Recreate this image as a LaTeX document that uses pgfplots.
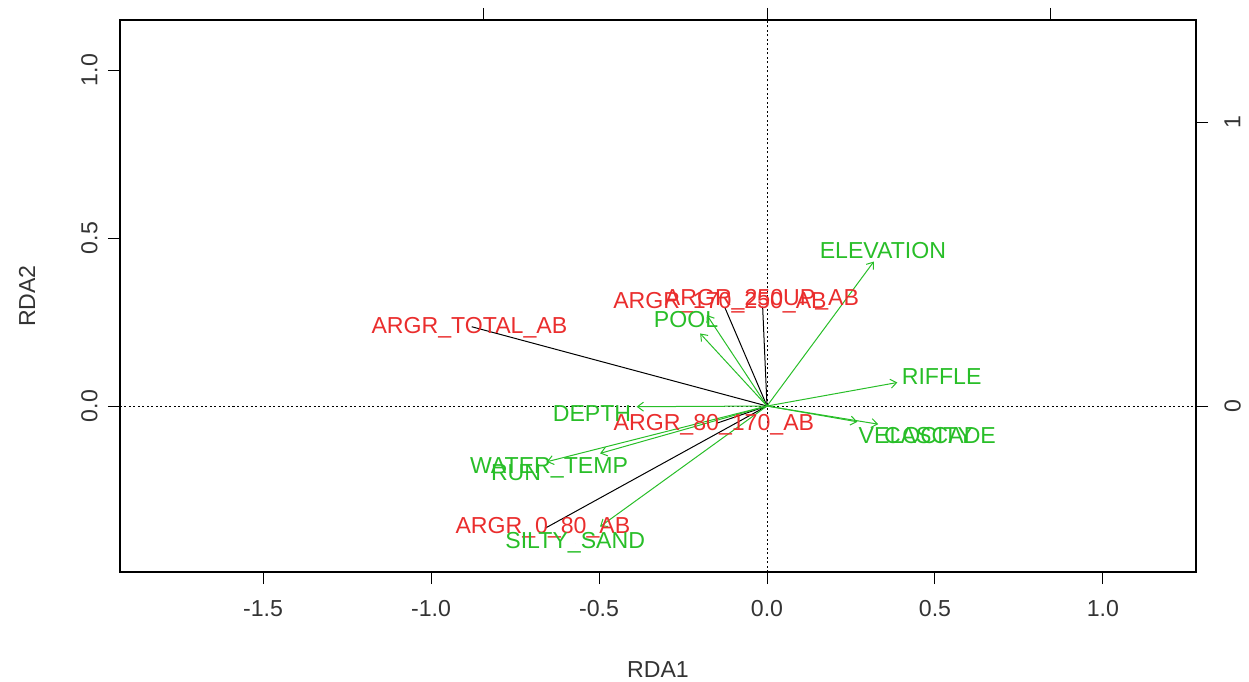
\documentclass[border=0pt]{standalone}
\usepackage{pgfplots}
\pgfplotsset{compat=1.18}
\usepackage{fontspec}
\setmainfont{Liberation Sans}
\usetikzlibrary{arrows.meta}
\definecolor{rgreen}{RGB}{40,190,40}
\definecolor{rred}{RGB}{234,45,45}
\newcommand{\lblfont}{\fontsize{23.2}{28}\selectfont}
\begin{document}
\begin{tikzpicture}
\begin{axis}[
  at={(0bp,0bp)}, anchor=south west,
  scale only axis, width=1076bp, height=552bp,
  xmin=-1.926, xmax=1.277, ymin=-0.494, ymax=1.149,
  xtick={-1.5,-1,-0.5,0,0.5,1}, xticklabels={-1.5,-1.0,-0.5,0.0,0.5,1.0},
  ytick={0,0.5,1}, yticklabels={0.0,0.5,1.0},
  xtick pos=bottom, ytick pos=left,
  tick align=outside, major tick length=12bp,
  tick style={black, line width=1bp},
  axis line style={line width=1.2bp},
  ticklabel style={font=\lblfont, text=black!80},
  xticklabel style={anchor=north}, xticklabel shift=13bp,
  yticklabel style={rotate=90, anchor=south}, yticklabel shift=7bp,
  xlabel={RDA1}, ylabel={RDA2},
  xlabel style={at={([yshift=-98bp]axis description cs:0.5,0)}, anchor=center, font=\lblfont, text=black!80},
  ylabel style={at={([xshift=-93bp]axis description cs:0,0.5)}, anchor=center, font=\lblfont, text=black!80},
]
% reference lines
\addplot[black, line width=1bp, dash pattern=on 2bp off 2.5bp] coordinates {(-1.926,0) (1.277,0)};
\addplot[black, line width=1bp, dash pattern=on 2bp off 2.5bp] coordinates {(0,-0.494) (0,1.149)};
% species (black lines)
\addplot[black, line width=1bp] coordinates {(0,0) (-0.879,0.236)};
\addplot[black, line width=1bp] coordinates {(0,0) (-0.661,-0.364)};
\addplot[black, line width=1bp] coordinates {(0,0) (-0.149,-0.051)};
\addplot[black, line width=1bp] coordinates {(0,0) (-0.125,0.292)};
\addplot[black, line width=1bp] coordinates {(0,0) (-0.013,0.296)};
% environmental arrows (green)
\pgfplotsset{envarrow/.style={rgreen, line width=1bp, -{Straight Barb[length=6bp,width=9bp]}}}
\addplot[envarrow] coordinates {(0,0) (0.318,0.430)};
\addplot[envarrow] coordinates {(0,0) (0.388,0.070)};
\addplot[envarrow] coordinates {(0,0) (0.269,-0.047)};
\addplot[envarrow] coordinates {(0,0) (0.331,-0.054)};
\addplot[envarrow] coordinates {(0,0) (-0.388,-0.002)};
\addplot[envarrow] coordinates {(0,0) (-0.656,-0.166)};
\addplot[envarrow] coordinates {(0,0) (-0.497,-0.141)};
\addplot[envarrow] coordinates {(0,0) (-0.497,-0.359)};
\addplot[envarrow] coordinates {(0,0) (-0.199,0.216)};
\addplot[envarrow] coordinates {(0,0) (-0.179,0.271)};
% labels
\addplot[only marks, mark=*, mark size=0pt, mark options={draw=none, fill=none},
  nodes near coords, point meta=explicit symbolic,
  every node near coord/.append style={anchor=center, text=rred, font=\lblfont, inner sep=0pt, text opacity=1}]
  table[meta=lab, row sep=\\] {
x y lab\\
-0.886 0.234 ARGR\_TOTAL\_AB\\
-0.667 -0.363 ARGR\_0\_80\_AB\\
-0.158 -0.057 ARGR\_80\_170\_AB\\
-0.140 0.307 ARGR\_170\_250\_AB\\
-0.015 0.315 ARGR\_250UP\_AB\\
};
\addplot[only marks, mark=*, mark size=0pt, mark options={draw=none, fill=none},
  nodes near coords, point meta=explicit symbolic,
  every node near coord/.append style={anchor=center, text=rgreen, font=\lblfont, inner sep=0pt, text opacity=1}]
  table[meta=lab, row sep=\\] {
x y lab\\
0.345 0.464 ELEVATION\\
0.520 0.089 RIFFLE\\
0.443 -0.089 VELOCITY\\
0.515 -0.089 CASCADE\\
-0.521 -0.021 DEPTH\\
-0.649 -0.185 WATER\_TEMP\\
-0.747 -0.199 RUN\\
-0.571 -0.408 SILTY\_SAND\\
-0.241 0.256 POOL\\
};
\end{axis}
% secondary (top/right) axes of the biplot arrows
\begin{axis}[
  at={(0bp,0bp)}, anchor=south west,
  scale only axis, width=1076bp, height=552bp,
  xmin=-2.2787, xmax=1.5108, ymin=-0.5845, ymax=1.3594,
  axis x line*=top, axis y line*=right,
  xtick={-1,0,1}, xticklabels={,,},
  ytick={0,1}, yticklabels={0,1},
  tick align=outside, major tick length=12bp,
  tick style={black, line width=1bp},
  axis line style={line width=1.2bp, -},
  ticklabel style={font=\lblfont, text=black!80},
  yticklabel style={rotate=90, anchor=north}, yticklabel shift=13bp,
]
\end{axis}
\useasboundingbox (-120bp,-109bp) rectangle (1129bp,572bp);
\end{tikzpicture}
\end{document}
